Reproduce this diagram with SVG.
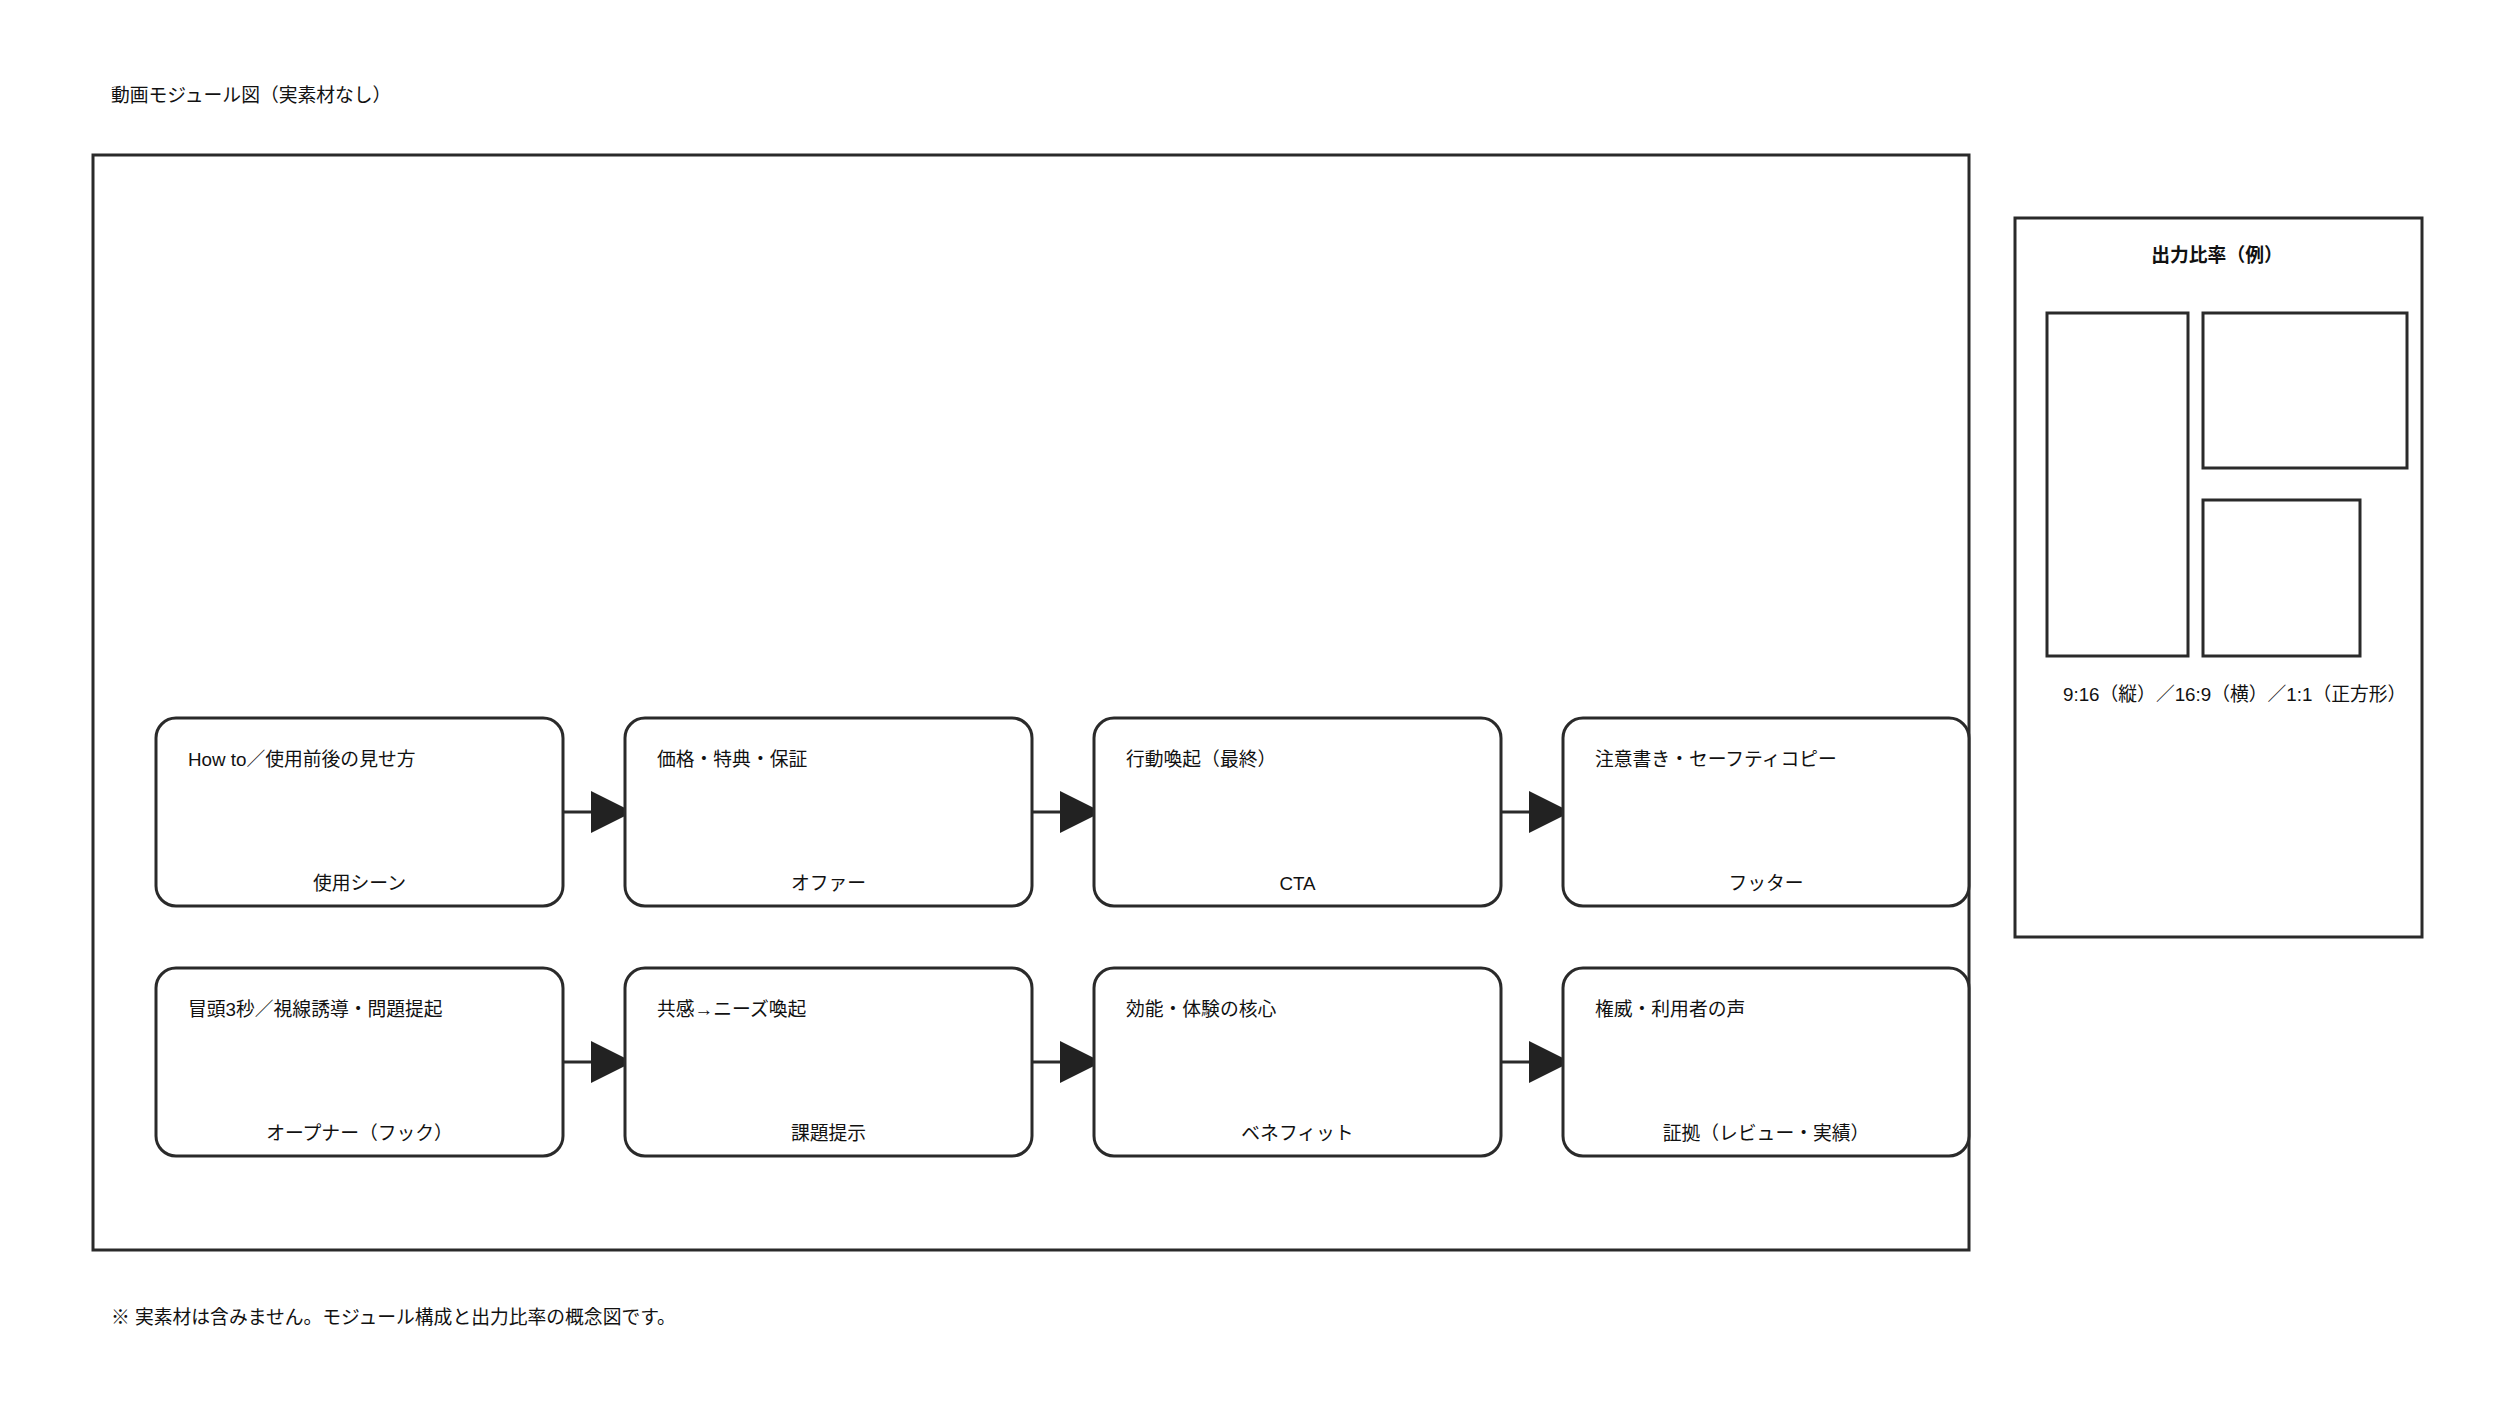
<svg xmlns="http://www.w3.org/2000/svg" width="2500" height="1406" viewBox="0 0 2500 1406">
<style>
text{font-family:"Liberation Sans","Noto Sans CJK JP",sans-serif;font-size:18.8px;fill:#111}
.frame{fill:none;stroke:#2a2a2a;stroke-width:3}
.box{fill:#fff;stroke:#2a2a2a;stroke-width:3}
.mid{text-anchor:middle}
.conn{stroke:#2a2a2a;stroke-width:3;fill:none}
</style>
<defs>
<marker id="ah" markerUnits="userSpaceOnUse" markerWidth="42" markerHeight="42" refX="42" refY="21" orient="auto">
<path d="M0,0 L42,21 L0,42 Z" fill="#222"/>
</marker>
</defs>
<rect width="2500" height="1406" fill="#fff"/>
<text x="111" y="102">動画モジュール図（実素材なし）</text>
<g id="main-frame"><rect class="frame" x="93" y="155" width="1876" height="1095"/></g>

<g id="connectors">
<line class="conn" x1="563" y1="812" x2="633" y2="812" marker-end="url(#ah)"/>
<line class="conn" x1="1032" y1="812" x2="1102" y2="812" marker-end="url(#ah)"/>
<line class="conn" x1="1501" y1="812" x2="1571" y2="812" marker-end="url(#ah)"/>
<line class="conn" x1="563" y1="1062" x2="633" y2="1062" marker-end="url(#ah)"/>
<line class="conn" x1="1032" y1="1062" x2="1102" y2="1062" marker-end="url(#ah)"/>
<line class="conn" x1="1501" y1="1062" x2="1571" y2="1062" marker-end="url(#ah)"/>
</g>

<g id="usage"><rect class="box" x="156" y="718" width="407" height="188" rx="20"/><text x="188" y="766">How to／使用前後の見せ方</text><text class="mid" x="359.5" y="890">使用シーン</text></g>
<g id="offer"><rect class="box" x="625" y="718" width="407" height="188" rx="20"/><text x="657" y="766">価格・特典・保証</text><text class="mid" x="828.5" y="890">オファー</text></g>
<g id="cta"><rect class="box" x="1094" y="718" width="407" height="188" rx="20"/><text x="1126" y="766">行動喚起（最終）</text><text class="mid" x="1297.5" y="890">CTA</text></g>
<g id="footer"><rect class="box" x="1563" y="718" width="406" height="188" rx="20"/><text x="1595" y="766">注意書き・セーフティコピー</text><text class="mid" x="1766" y="890">フッター</text></g>

<g id="opener"><rect class="box" x="156" y="968" width="407" height="188" rx="20"/><text x="188" y="1016">冒頭3秒／視線誘導・問題提起</text><text class="mid" x="359.5" y="1140">オープナー（フック）</text></g>
<g id="problem"><rect class="box" x="625" y="968" width="407" height="188" rx="20"/><text x="657" y="1016">共感→ニーズ喚起</text><text class="mid" x="828.5" y="1140">課題提示</text></g>
<g id="benefit"><rect class="box" x="1094" y="968" width="407" height="188" rx="20"/><text x="1126" y="1016">効能・体験の核心</text><text class="mid" x="1297.5" y="1140">ベネフィット</text></g>
<g id="proof"><rect class="box" x="1563" y="968" width="406" height="188" rx="20"/><text x="1595" y="1016">権威・利用者の声</text><text class="mid" x="1766" y="1140">証拠（レビュー・実績）</text></g>

<g id="ratio-panel">
<rect class="frame" x="2015" y="218" width="407" height="719"/>
<text class="mid" x="2217" y="262" font-weight="bold" font-size="18px">出力比率（例）</text>
<rect class="frame" x="2047" y="313" width="141" height="343"/>
<rect class="frame" x="2203" y="313" width="204" height="155"/>
<rect class="frame" x="2203" y="500" width="157" height="156"/>
<text x="2063" y="701">9:16（縦）／16:9（横）／1:1（正方形）</text>
</g>

<text x="111" y="1324">※ 実素材は含みません。モジュール構成と出力比率の概念図です。</text>
</svg>
